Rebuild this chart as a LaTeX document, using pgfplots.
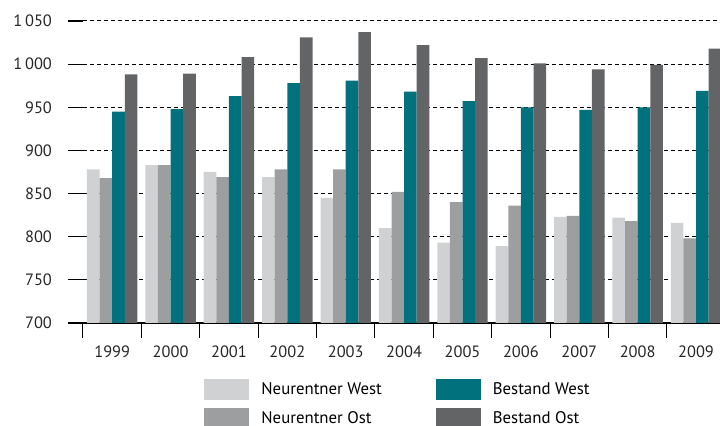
\documentclass[border=0pt]{standalone}
\usepackage{fontspec}
\setmainfont{PT Sans}
\usepackage{pgfplots}
\pgfplotsset{compat=1.18}
\usetikzlibrary{calc}
\definecolor{nwest}{HTML}{D0D1D3}
\definecolor{nost}{HTML}{9D9EA0}
\definecolor{bwest}{HTML}{00717D}
\definecolor{bost}{HTML}{636466}

\begin{document}
\begin{tikzpicture}
\begin{axis}[
  scale only axis, width=318.5pt, height=151pt,
  ybar=0pt, bar width=0.216,
  xmin=-0.5, xmax=10.41, ymin=700, ymax=1050,
  enlargelimits=false,
  xtick={0,...,10},
  xticklabels={1999,2000,2001,2002,2003,2004,2005,2006,2007,2008,2009},
  minor xtick={-0.5,0.5,...,9.5},
  ytick={700,750,...,1050},
  yticklabels={700,750,800,850,900,950,1\,000,1\,050},
  axis lines*=left,
  y axis line style={draw=none},
  x axis line style={-, line width=0.6pt, shorten <=-7.5pt},
  tick align=outside,
  major tick length=7.5pt, minor tick length=7.5pt,
  major x tick style={draw=none},
  minor x tick style={black, line width=0.5pt},
  ytick style={black, line width=0.6pt},
  ymajorgrids,
  grid style={black, line width=0.5pt, dash pattern=on 2pt off 1.5pt},
  tick label style={font=\fontsize{8.2}{9}\selectfont, text=black!85},
  yticklabel style={xshift=-4.5pt},
  xticklabel style={yshift=-0.5pt},
  legend style={at={(0.19,-0.182)}, anchor=north west, draw=none, fill=none,
    inner sep=0pt, legend columns=2, transpose legend,
    font=\fontsize{8.4}{10}\selectfont, row sep=3pt,
    /tikz/every even column/.append style={column sep=25pt}},
  legend cell align=left,
  legend image code/.code={\fill[#1] (0pt,-5.25pt) rectangle (22.5pt,5.25pt);
    \path (26.5pt,0pt);},
]
\addplot[fill=nwest, draw=none] coordinates
  {(0,878) (1,883) (2,875) (3,869) (4,845) (5,810) (6,793) (7,789) (8,823) (9,822) (10,816)};
\addplot[fill=nost, draw=none] coordinates
  {(0,868) (1,883) (2,869) (3,878) (4,878) (5,852) (6,840) (7,836) (8,824) (9,818) (10,798)};
\addplot[fill=bwest, draw=none] coordinates
  {(0,945) (1,948) (2,963) (3,978) (4,981) (5,968) (6,957) (7,950) (8,947) (9,950) (10,969)};
\addplot[fill=bost, draw=none] coordinates
  {(0,988) (1,989) (2,1008) (3,1031) (4,1037) (5,1022) (6,1007) (7,1001) (8,994) (9,999) (10,1018)};
\legend{Neurentner West, Neurentner Ost, Bestand West, Bestand Ost}
\coordinate (bl) at (rel axis cs:0,0);
\coordinate (tr) at (rel axis cs:1,1);
\end{axis}
\pgfresetboundingbox
\path[use as bounding box] ($(bl)+(-41.5pt,-51.5pt)$) rectangle ($(tr)+(0,10.5pt)$);
\end{tikzpicture}
\end{document}
